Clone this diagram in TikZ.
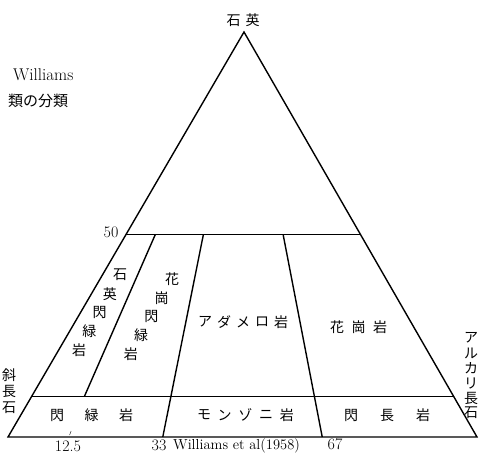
\documentclass[tikz,border=0pt]{standalone}
\usepackage{fontspec}
\newfontfamily\jp{Noto Sans CJK JP}
\usetikzlibrary{calc}

\begin{document}
\begin{tikzpicture}[x=1pt,y=-1pt,
		borda/.style={line width=1.4pt, black},
		jpch/.style={font=\jp\fontsize{14}{14}\selectfont, inner sep=0pt},
		numero/.style={font=\fontsize{16}{16}\selectfont, inner sep=0pt}]
		\useasboundingbox (0,0) rectangle (479,453);
		
		% Vértices do triângulo
		\coordinate (Q) at (244,32);
		\coordinate (P) at (8,437);
		\coordinate (A) at (477,437);
		
		% Pontos auxiliares
		\coordinate (B12) at ($(P)!0.125!(A)$);
		\coordinate (B33) at ($(P)!0.33!(A)$);
		\coordinate (B67) at ($(P)!0.67!(A)$);
		\coordinate (P50) at ($(Q)!0.5!(P)$);
		\coordinate (A50) at ($(Q)!0.5!(A)$);
		\coordinate (P10) at ($(Q)!0.9!(P)$);
		\coordinate (A10) at ($(Q)!0.9!(A)$);
		
		% Arestas e divisões
		\draw[borda] (P) -- (A) -- (Q) -- cycle;
		\draw[borda] (P50) -- (A50);
		\draw[borda] (P10) -- (A10);
		\draw[borda] ($(Q)!0.9!(B12)$) -- ($(Q)!0.5!(B12)$);
		\draw[borda] (B33) -- ($(Q)!0.5!(B33)$);
		\draw[borda] (B67) -- ($(Q)!0.5!(B67)$);
		\draw[thin] ($(B12)+(3,-2)$) -- ++(1.5,-4); % marca 12.5
		
		% Vértices (nomes)
		\node[jpch] (quartzo) at (243,20) {石\hspace{5pt}英};
		\foreach \ch [count=\i from 0] in {斜,長,石}
			\node[jpch] (plag\i) at (9,375+16.5*\i) {\ch};
		\foreach \ch [count=\i from 0] in {ア,ル,カ,リ,長,石}
			\node[jpch] (alc\i) at (471,338+15*\i) {\ch};
		
		% Campos
		\foreach \ch [count=\i from 0] in {石,英,閃,緑,岩}
			\node[jpch] (qd\i) at (120-10.2*\i,275+18.8*\i) {\ch};
		\foreach \ch [count=\i from 0] in {花,崗,閃,緑,岩}
			\node[jpch] (gd\i) at (172-10.3*\i,279+18.8*\i) {\ch};
		\foreach \ch [count=\i from 0] in {ア,ダ,メ,ロ,岩}
			\node[jpch] (adm\i) at (205+19*\i,322) {\ch};
		\foreach \ch [count=\i from 0] in {花,崗,岩}
			\node[jpch] (gr\i) at (337+21.5*\i,327) {\ch};
		\foreach \ch [count=\i from 0] in {閃,緑,岩}
			\node[jpch] (di\i) at (57+34.5*\i,415) {\ch};
		\foreach \ch [count=\i from 0] in {モ,ン,ゾ,ニ,岩}
			\node[jpch] (mz\i) at (204+20.7*\i,415) {\ch};
		\foreach \ch [count=\i from 0] in {閃,長,岩}
			\node[jpch] (sy\i) at (351+36*\i,415) {\ch};
		
		% Valores
		\node[numero] (v50) at (111,232) {50};
		\node[numero] (v12) at (68,446) {12.5};
		\node[numero] (v33) at (159,445) {33};
		\node[numero] (v67) at (335,444) {67};
		\node[numero, font=\fontsize{14.5}{14.5}\selectfont, anchor=base west] (fonte) at (173,449) {Williams et al(1958)};
		
		% Título
		\node[anchor=west, inner sep=0pt, font=\fontsize{17}{17}\selectfont] (titulo1) at (13,75) {Williams};
		\node[anchor=west, inner sep=0pt, font=\jp\fontsize{15}{15}\selectfont] (titulo2) at (8,101) {類の分類};
	\end{tikzpicture}
\end{document}
